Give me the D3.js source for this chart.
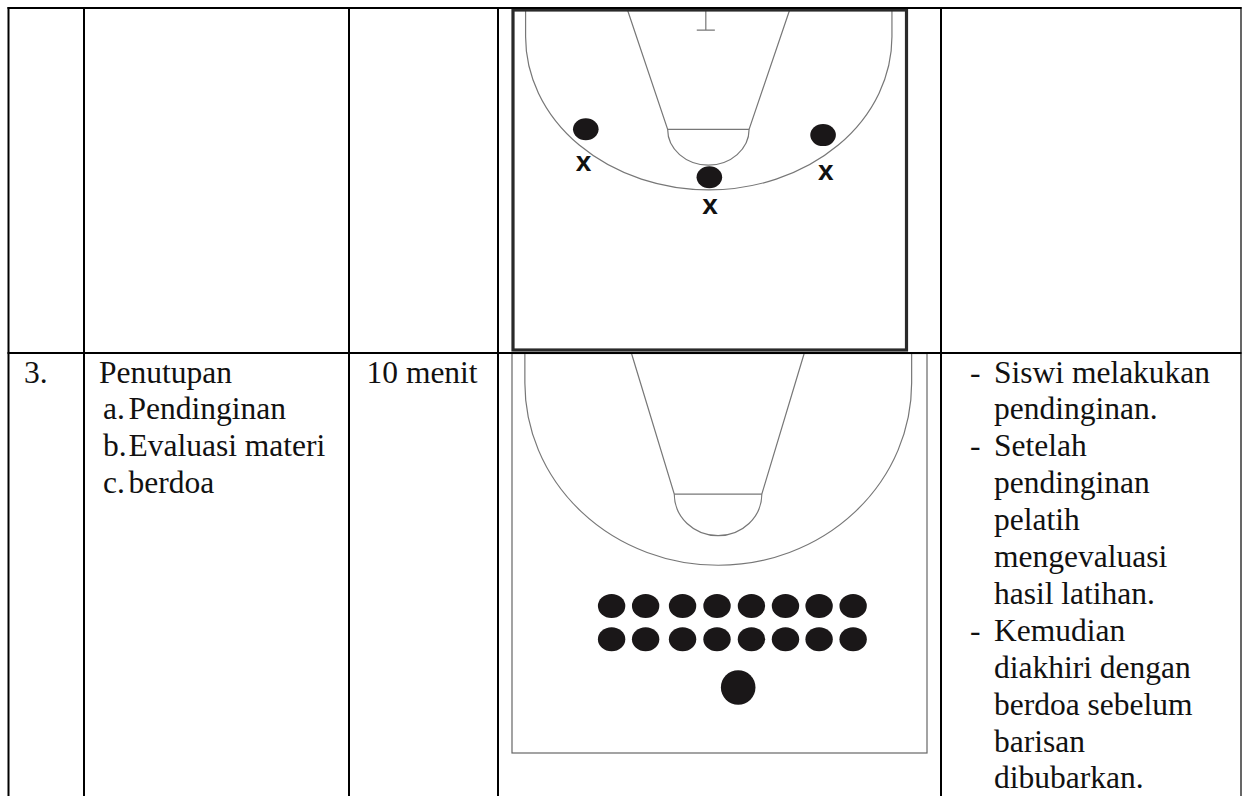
<!DOCTYPE html>
<html>
<head>
<meta charset="utf-8">
<script src="https://cdn.jsdelivr.net/npm/d3@7"></script>
<style>
html, body { margin: 0; padding: 0; background: #fff; }
svg { display: block; }
text { font-family: "Liberation Serif", serif; font-size: 31.5px; fill: #111; }
</style>
</head>
<body>
<div id="chart"></div>
<script>
// table text
var rowNumber = '3.';
var activityLines = ['Penutupan'];
var activityMarks = ['a.', 'b.', 'c.'];
var activityItems = ['Pendinginan', 'Evaluasi materi', 'berdoa'];
var durationText = '10 menit';
var descriptionLines = [
    '- Siswi melakukan', 'pendinginan.',
    '- Setelah', 'pendinginan', 'pelatih', 'mengevaluasi', 'hasil latihan.',
    '- Kemudian', 'diakhiri dengan', 'berdoa sebelum', 'barisan', 'dibubarkan.'
];

// upper court, percent of the court frame
var upperPlayersX = [18.5, 49.9, 78.8];
var upperPlayersY = [35.1, 49.2, 36.8];
var upperMarksX = [17.9, 50.1, 79.5];
var upperMarksY = [45.3, 58.0, 47.9];

// lower court, percent of the court frame
var lowerRowX = [24.0, 32.2, 41.1, 49.4, 57.7, 65.9, 74.0, 82.2];
var lowerRowY = [63.2, 71.5];
var coachX = [54.5];
var coachY = [83.6];

var width = 1242, height = 796;

var svg = d3.select('#chart').append('svg')
    .attr('width', width)
    .attr('height', height);

// court frames are drawn first, the table rules go over them
function drawCourt(box, shape) {
    var x = d3.scaleLinear().domain([0, 100]).range([box.left, box.right]),
        y = d3.scaleLinear().domain([0, 100]).range([box.top, box.bottom]);
    var g = svg.append('g').attr('fill', 'none').attr('stroke', '#777').attr('stroke-width', 1.2);

    g.append('path').attr('d',
        'M' + x(shape.arcLeft) + ',' + y(0) +
        'V' + y(shape.arcStart) +
        'A' + (x(shape.arcRight) - x(shape.arcLeft)) / 2 + ',' + (y(shape.arcBottom) - y(shape.arcStart)) +
        ' 0 0 0 ' + x(shape.arcRight) + ',' + y(shape.arcStart) +
        'V' + y(0));

    g.append('path').attr('d',
        'M' + x(shape.laneTopLeft) + ',' + y(0) +
        'L' + x(shape.laneLeft) + ',' + y(shape.lineY) +
        'A' + (x(shape.laneRight) - x(shape.laneLeft)) / 2 + ',' + (y(shape.keyBottom) - y(shape.lineY)) +
        ' 0 0 0 ' + x(shape.laneRight) + ',' + y(shape.lineY) +
        'L' + x(shape.laneTopRight) + ',' + y(0));

    g.append('line')
        .attr('x1', x(shape.laneLeft)).attr('x2', x(shape.laneRight))
        .attr('y1', y(shape.lineY)).attr('y2', y(shape.lineY));

    if (shape.hoop) {
        g.append('path').attr('d',
            'M' + x(shape.hoop[0]) + ',' + y(0) + 'V' + y(shape.hoop[1]) +
            'M' + x(shape.hoop[0] - 2.3) + ',' + y(shape.hoop[1]) + 'H' + x(shape.hoop[0] + 2.3));
    }

    svg.append('rect')
        .attr('x', box.left).attr('y', box.top)
        .attr('width', box.right - box.left).attr('height', box.bottom - box.top)
        .attr('fill', 'none').attr('stroke', box.stroke).attr('stroke-width', box.line);

    return { x: x, y: y };
}

var upper = drawCourt(
    { left: 513, right: 906.5, top: 10, bottom: 350, stroke: '#2a2a2a', line: 3.2 },
    { arcLeft: 3.2, arcRight: 96.3, arcStart: 7.9, arcBottom: 52.9, laneTopLeft: 29.1, laneTopRight: 70.3,
      laneLeft: 39.3, laneRight: 60.0, lineY: 35.1, keyBottom: 45.6, hoop: [49.0, 5.9] }
);

var lower = drawCourt(
    { left: 512, right: 927, top: 353.5, bottom: 753, stroke: '#666', line: 1.2 },
    { arcLeft: 3.1, arcRight: 96.3, arcStart: 7.4, arcBottom: 53.0, laneTopLeft: 28.8, laneTopRight: 70.4,
      laneLeft: 39.1, laneRight: 60.2, lineY: 35.2, keyBottom: 45.6 }
);

// players on the upper court
svg.append('g').selectAll('ellipse')
    .data(upperPlayersX)
    .enter().append('ellipse')
    .attr('cx', function(d) { return upper.x(d); })
    .attr('cy', function(d, i) { return upper.y(upperPlayersY[i]); })
    .attr('rx', 12.8)
    .attr('ry', 11)
    .attr('fill', '#1a1718');

svg.append('g').selectAll('text')
    .data(upperMarksX)
    .enter().append('text')
    .attr('x', function(d) { return upper.x(d); })
    .attr('y', function(d, i) { return upper.y(upperMarksY[i]); })
    .attr('dy', '0.26em')
    .attr('text-anchor', 'middle')
    .style('font-family', '"Liberation Sans", sans-serif')
    .style('font-size', '28px')
    .style('font-weight', 'bold')
    .text('x');

// two rows of players on the lower court
lowerRowY.forEach(function(rowY) {
    svg.append('g').selectAll('ellipse')
        .data(lowerRowX)
        .enter().append('ellipse')
        .attr('cx', function(d) { return lower.x(d); })
        .attr('cy', lower.y(rowY))
        .attr('rx', 13.7)
        .attr('ry', 12)
        .attr('fill', '#1a1718');
});

svg.append('circle')
    .attr('cx', lower.x(coachX[0]))
    .attr('cy', lower.y(coachY[0]))
    .attr('r', 17.3)
    .attr('fill', '#1a1718');

// table rules
var grid = svg.append('g').attr('stroke', '#000');
[8.5, 84, 349, 498, 941].forEach(function(xPos) {
    grid.append('line').attr('x1', xPos).attr('x2', xPos).attr('y1', 7).attr('y2', height).attr('stroke-width', 2);
});
grid.append('line').attr('x1', 1241).attr('x2', 1241).attr('y1', 7).attr('y2', height).attr('stroke-width', 1.2);
[8, 353].forEach(function(yPos) {
    grid.append('line').attr('x1', 7.5).attr('x2', 1241.5).attr('y1', yPos).attr('y2', yPos).attr('stroke-width', 2);
});

// table text
var lineStep = 36.9, firstBase = 382.5;
function baseLine(i) { return firstBase + i * lineStep; }

svg.append('text').attr('x', 24).attr('y', baseLine(0)).text(rowNumber);
svg.append('text').attr('x', 99).attr('y', baseLine(0)).text(activityLines[0]);
svg.append('g').selectAll('text')
    .data(activityMarks)
    .enter().append('text')
    .attr('x', 103)
    .attr('y', function(d, i) { return baseLine(i + 1); })
    .text(function(d) { return d; });
svg.append('g').selectAll('text')
    .data(activityItems)
    .enter().append('text')
    .attr('x', 128.5)
    .attr('y', function(d, i) { return baseLine(i + 1); })
    .text(function(d) { return d; });
svg.append('text').attr('x', 366.5).attr('y', baseLine(0)).text(durationText);

svg.append('g').selectAll('text')
    .data(descriptionLines)
    .enter().append('text')
    .attr('x', function(d) { return d.charAt(0) === '-' ? 970 : 994; })
    .attr('y', function(d, i) { return baseLine(i); })
    .each(function(d) {
        var t = d3.select(this);
        if (d.charAt(0) === '-') {
            t.append('tspan').text('-');
            t.append('tspan').attr('x', 994).text(d.slice(2));
        } else {
            t.text(d);
        }
    });
</script>
</body>
</html>
